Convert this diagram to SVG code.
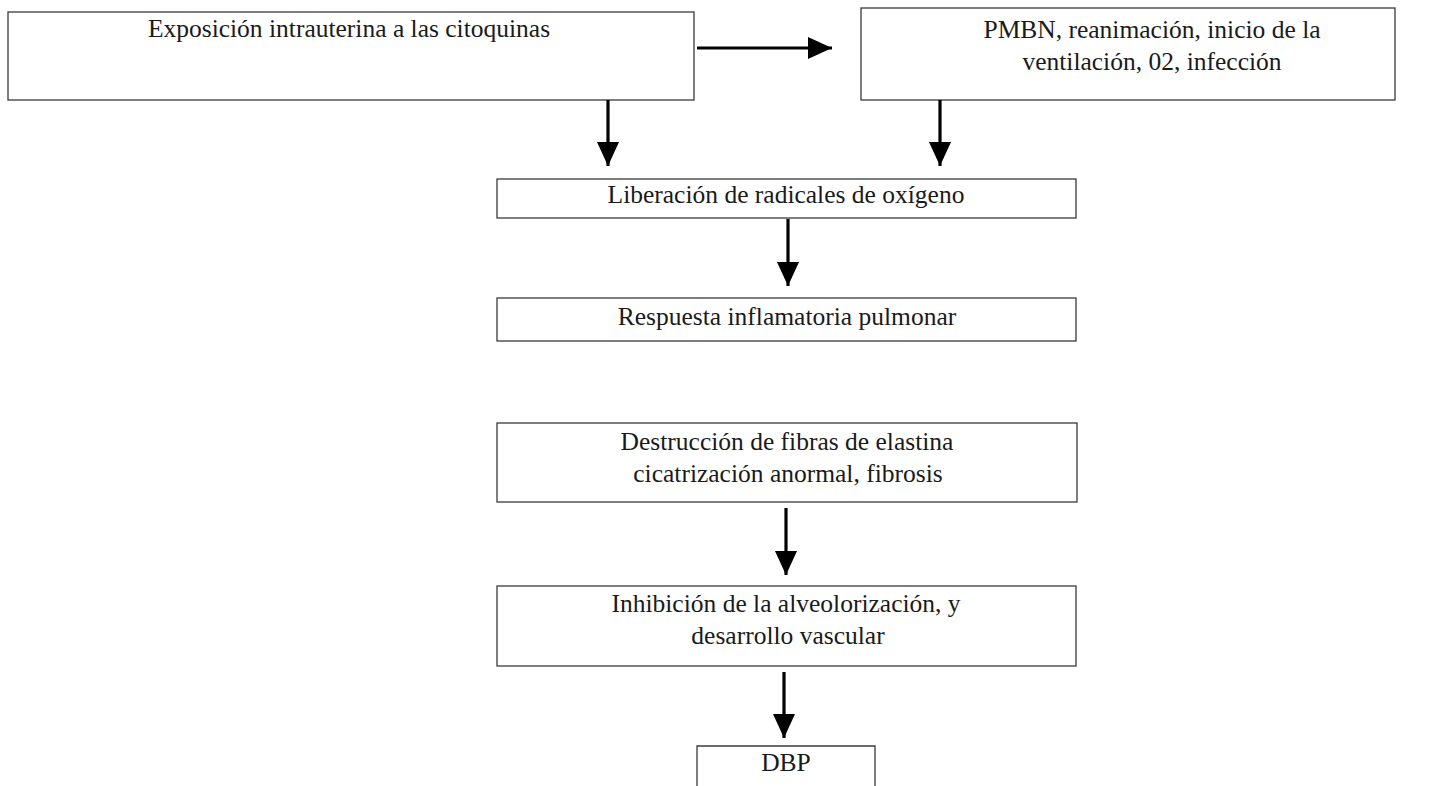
<svg xmlns="http://www.w3.org/2000/svg" width="1446" height="786" viewBox="0 0 1446 786">
  <style>
    .box { fill: #ffffff; stroke: #3a3a3a; stroke-width: 1.3; }
    .lbl { font-family: "Liberation Serif", "DejaVu Serif", serif; font-size: 25.5px; fill: #1a1a1a; text-anchor: middle; }
    .edge { stroke: #000000; stroke-width: 3.2; fill: none; marker-end: url(#head); }
  </style>
  <defs>
    <marker id="head" markerUnits="userSpaceOnUse" markerWidth="24" markerHeight="24" viewBox="0 0 24 24" refX="24" refY="12" orient="auto">
      <path d="M0,1 L24,12 L0,23 Z" fill="#000000"/>
    </marker>
  </defs>
  <rect width="1446" height="786" fill="#ffffff"/>

  <g id="n-exposicion">
    <rect class="box" x="8" y="12" width="686" height="88"/>
    <text class="lbl" x="349" y="37">Exposición intrauterina a las citoquinas</text>
  </g>

  <g id="n-pmbn">
    <rect class="box" x="861" y="8" width="534" height="92"/>
    <text class="lbl" x="1152" y="38">PMBN, reanimación, inicio de la</text>
    <text class="lbl" x="1152" y="70">ventilación, 02, infección</text>
  </g>

  <g id="n-liberacion">
    <rect class="box" x="497" y="179" width="579" height="39"/>
    <text class="lbl" x="786" y="203">Liberación de radicales de oxígeno</text>
  </g>

  <g id="n-respuesta">
    <rect class="box" x="497" y="298" width="579" height="43"/>
    <text class="lbl" x="787" y="325">Respuesta inflamatoria pulmonar</text>
  </g>

  <g id="n-destruccion">
    <rect class="box" x="497" y="423" width="580" height="79"/>
    <text class="lbl" x="787" y="450">Destrucción de fibras de elastina</text>
    <text class="lbl" x="788" y="482">cicatrización anormal, fibrosis</text>
  </g>

  <g id="n-inhibicion">
    <rect class="box" x="497" y="586" width="579" height="80"/>
    <text class="lbl" x="786" y="612">Inhibición de la alveolorización, y</text>
    <text class="lbl" x="788" y="644">desarrollo vascular</text>
  </g>

  <g id="n-dbp">
    <path class="box" d="M697,790 L697,746 L875,746 L875,790"/>
    <text class="lbl" x="786" y="771">DBP</text>
  </g>

  <g id="connectors">
    <line class="edge" x1="697" y1="48" x2="832" y2="48"/>
    <line class="edge" x1="608" y1="100" x2="608" y2="166"/>
    <line class="edge" x1="940" y1="100" x2="940" y2="166"/>
    <line class="edge" x1="788" y1="219" x2="788" y2="286"/>
    <line class="edge" x1="786" y1="508" x2="786" y2="575"/>
    <line class="edge" x1="784" y1="672" x2="784" y2="738"/>
  </g>
</svg>
